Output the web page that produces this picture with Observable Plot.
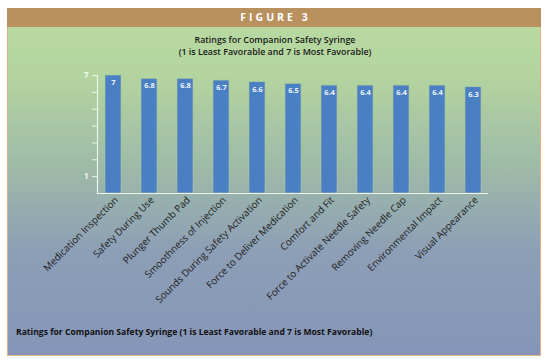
<!DOCTYPE html>
<html>
<head>
<meta charset="utf-8">
<script src="https://cdn.jsdelivr.net/npm/d3@7"></script>
<script src="https://cdn.jsdelivr.net/npm/@observablehq/plot@0.6"></script>
<style>
  html, body { margin: 0; padding: 0; background: #fff; }
  #wrap { position: relative; width: 550px; height: 363px; overflow: hidden; font-family: "Open Sans", sans-serif; }
  #frame { position: absolute; left: 7px; top: 8px; width: 532px; height: 347px;
    border: 1px solid #e3b27a; border-top: none;
    background: linear-gradient(to bottom, #b9dba1 0%, #b3d49f 20%, #9fbba8 45%, #8d9fb6 70%, #8595b8 100%); }
  #header { position: absolute; left: 7px; top: 8px; width: 534px; height: 19px; background: #b8915f;
    color: #fff; font: bold 10.5px "Open Sans", sans-serif; letter-spacing: 3px; text-indent: 3px;
    text-align: center; line-height: 19px; }
  #title { position: absolute; left: 0; width: 550px; top: 34px; text-align: center; color: #1a1a1a;
    font: 600 8.9px/11.5px "Open Sans", sans-serif; }
  #caption { position: absolute; left: 16px; top: 326px; color: #111; font: bold 8.6px "Open Sans", sans-serif; white-space: nowrap; }
  #chart { position: absolute; left: 0; top: 0; }
</style>
</head>
<body>
<div id="wrap">
  <div id="frame"></div>
  <div id="header">FIGURE 3</div>
  <div id="title">Ratings for Companion Safety Syringe<br>(1 is Least Favorable and 7 is Most Favorable)</div>
  <div id="chart"></div>
  <div id="caption">Ratings for Companion Safety Syringe (1 is Least Favorable and 7 is Most Favorable)</div>
</div>
<script>
const categories = [
  "Medication Inspection",
  "Safety During Use",
  "Plunger Thumb Pad",
  "Smoothness of Injection",
  "Sounds During Safety Activation",
  "Force to Deliver Medication",
  "Comfort and Fit",
  "Force to Activate Needle Safety",
  "Removing Needle Cap",
  "Environmental Impact",
  "Visual Appearance"
];
const ratings = [7, 6.8, 6.8, 6.7, 6.6, 6.5, 6.4, 6.4, 6.4, 6.4, 6.3];
const yTicks = [1, 2, 3, 4, 5, 6, 7];
const yTickLabels = {1: "1", 7: "7"};

const data = categories.map((c, i) => ({category: c, rating: ratings[i]}));

const chart = Plot.plot({
  width: 550,
  height: 363,
  marginLeft: 97,
  marginRight: 62,
  marginTop: 75,
  marginBottom: 170,
  style: {background: "transparent", overflow: "visible"},
  x: {domain: categories, paddingInner: 0.56, paddingOuter: 0.13, label: null},
  y: {domain: [0, 7], label: null},
  marks: [
    Plot.barY(data, {x: "category", y: "rating", fill: "#4a7fc3", stroke: "#a9c99a", strokeWidth: 0.6}),
    Plot.text(data, {x: "category", y: "rating", text: d => String(d.rating), dy: 7, fill: "#eef3fb",
      fontSize: 7.5, fontWeight: "bold", fontFamily: "Open Sans"}),
    Plot.ruleY([0], {stroke: "#eef3ea", strokeWidth: 1.2}),
    Plot.axisY({ticks: yTicks, tickFormat: d => yTickLabels[d] ?? "", tickSize: 5, tickPadding: 4,
      stroke: "#eef3ea", fill: "#f4f7f0", fontSize: 8, fontWeight: "bold", fontFamily: "Open Sans"}),
    Plot.axisX({tickRotate: -45, tickSize: 0, tickPadding: 5, fill: "#222", fontSize: 9.8,
      fontFamily: "Open Sans", dx: 3}),
    Plot.frame({anchor: "left", stroke: "#eef3ea", strokeWidth: 1.2})
  ]
});
document.getElementById("chart").appendChild(chart);
</script>
</body>
</html>
